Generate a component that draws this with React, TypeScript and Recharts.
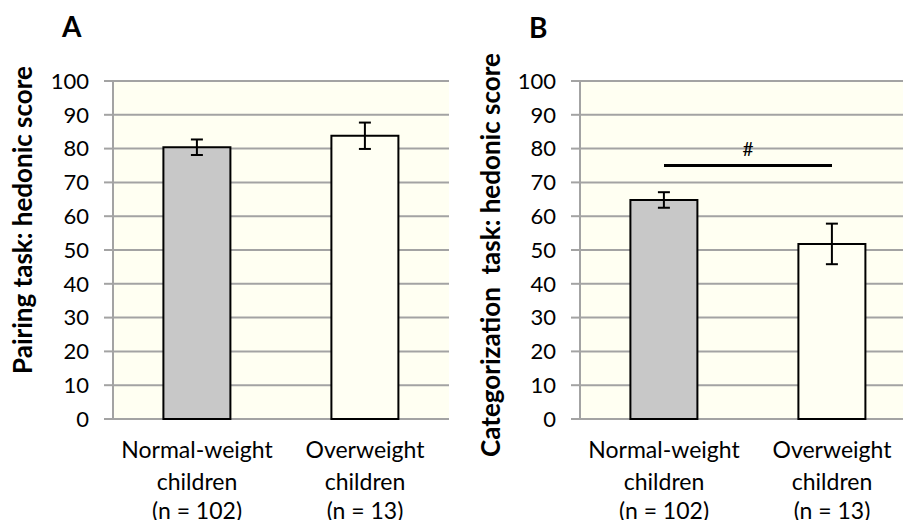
import React from "react";
import {
  BarChart,
  Bar,
  Cell,
  CartesianGrid,
  ErrorBar,
  Label,
  ReferenceLine,
  XAxis,
  YAxis,
} from "recharts";

const categories = ["Normal-weight", "Overweight"];
const categoryLines = [
  ["Normal-weight", "children", "(n = 102)"],
  ["Overweight", "children", "(n = 13)"],
];
const pairingMeans = [80.4, 83.8];
const pairingErrors = [2.3, 3.9];
const categorizationMeans = [64.8, 51.8];
const categorizationErrors = [2.3, 6.0];
const yTicks = [0, 10, 20, 30, 40, 50, 60, 70, 80, 90, 100];
const significance = { label: "#", level: 75 };

const barFills = ["#C8C8C8", "#FFFFF3"];
const grid = "#A3A3A3";
const plotBg = "#FFFFF2";
const font = "Lato, 'Open Sans', sans-serif";

const build = (means: number[], errs: number[]) =>
  categories.map((c, i) => ({ name: c, value: means[i], err: errs[i] }));

function CategoryTick({ x, y, payload }: any) {
  const idx = categories.indexOf(payload.value);
  const lines = categoryLines[idx] ?? [payload.value];
  const gaps = [31, 32, 29];
  return (
    <text x={x} y={y} textAnchor="middle" fontSize={23} fill="#000" fontFamily={font}>
      {lines.map((l, i) => (
        <tspan key={i} x={x} dy={gaps[i]}>
          {l}
        </tspan>
      ))}
    </text>
  );
}

function Panel({
  data,
  title,
  titleX,
  titleY,
  width,
  sig,
}: {
  data: { name: string; value: number; err: number }[];
  title: string;
  titleX: number;
  titleY: number;
  width: number;
  sig?: boolean;
}) {
  return (
    <BarChart
      width={width}
      height={528}
      data={data}
      barCategoryGap="30%"
      margin={{ top: 81, right: width - 449, bottom: 0, left: 0 }}
    >
      <CartesianGrid
        vertical={false}
        stroke={grid}
        strokeWidth={2}
        fill={plotBg}
        fillOpacity={1}
      />
      <XAxis
        xAxisId="edge"
        type="number"
        domain={[0, 2]}
        ticks={[0, 1, 2]}
        height={0}
        stroke={grid}
        strokeWidth={2}
        tickSize={8}
        tickFormatter={() => ""}
      />
      <XAxis
        dataKey="name"
        height={109}
        axisLine={false}
        tickLine={false}
        interval={0}
        tick={<CategoryTick />}
      />
      <YAxis
        width={113}
        domain={[0, 100]}
        ticks={yTicks}
        interval={0}
        stroke={grid}
        strokeWidth={2}
        tickSize={9}
        tickMargin={15}
        tick={{ fill: "#000", fontSize: 22, fontFamily: font }}
      >
        <Label
          content={() => (
            <text
              x={titleX}
              y={titleY}
              transform={`rotate(-90 ${titleX} ${titleY})`}
              textAnchor="middle"
              dominantBaseline="central"
              fontSize={26}
              fontWeight={700}
              fontFamily={font}
              fill="#000"
              style={{ whiteSpace: "pre" }}
            >
              {title}
            </text>
          )}
        />
      </YAxis>
      <Bar dataKey="value" stroke="#000" strokeWidth={2} isAnimationActive={false}>
        {data.map((_, i) => (
          <Cell key={i} fill={barFills[i]} />
        ))}
        <ErrorBar dataKey="err" width={6} stroke="#000" strokeWidth={2} direction="y" />
      </Bar>
      {sig && (
        <ReferenceLine
          segment={[
            { x: categories[0], y: significance.level },
            { x: categories[1], y: significance.level },
          ]}
          stroke="#000"
          strokeWidth={3}
          label={{
            value: significance.label,
            position: "top",
            offset: 10,
            fontSize: 19,
            fill: "#000",
            fontFamily: font,
          }}
        />
      )}
    </BarChart>
  );
}

export default function App() {
  return (
    <div
      style={{
        position: "relative",
        width: 911,
        height: 528,
        margin: -8,
        overflow: "hidden",
        background: "#fff",
        fontFamily: font,
      }}
    >
      <div style={{ position: "absolute", left: 0, top: 0 }}>
        <Panel
          data={build(pairingMeans, pairingErrors)}
          title="Pairing task: hedonic score"
          titleX={22}
          titleY={220}
          width={460}
        />
      </div>
      <div style={{ position: "absolute", left: 467, top: 0 }}>
        <Panel
          data={build(categorizationMeans, categorizationErrors)}
          title="Categorization  task: hedonic score"
          titleX={23}
          titleY={255}
          width={449}
          sig
        />
      </div>
      <div
        style={{
          position: "absolute",
          left: 62,
          top: 8,
          fontSize: 28,
          fontWeight: 700,
          lineHeight: "36px",
        }}
      >
        A
      </div>
      <div
        style={{
          position: "absolute",
          left: 529,
          top: 9,
          fontSize: 28,
          fontWeight: 700,
          lineHeight: "36px",
        }}
      >
        B
      </div>
    </div>
  );
}
